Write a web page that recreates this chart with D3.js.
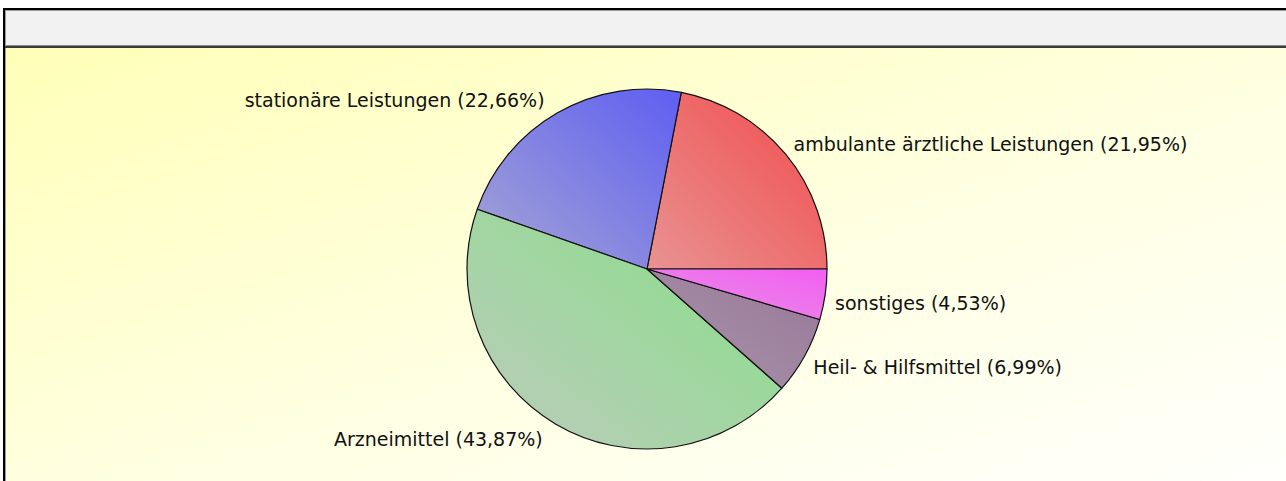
<!DOCTYPE html>
<html>
<head>
<meta charset="utf-8">
<script src="https://cdn.jsdelivr.net/npm/d3@7"></script>
<style>
  html, body { margin: 0; padding: 0; background: #fff; }
  svg { display: block; }
  .label { font-family: "DejaVu Sans", sans-serif; font-size: 19px; fill: #111; }
</style>
</head>
<body>
<div id="chart"></div>
<script>
// pie data
const categories = ['ambulante ärztliche Leistungen', 'stationäre Leistungen', 'Arzneimittel', 'Heil- & Hilfsmittel', 'sonstiges'];
const shares = [21.95, 22.66, 43.87, 6.99, 4.53];
const baseColors = ['#f24b4b', '#5e5ef2', '#86e086', '#987898', '#f25ef2'];
const lightColors = ['#e99292', '#a6a6d4', '#bdcbbd', '#a994a9', '#e893e4'];

(function() {
  const W = 1286, H = 481;
  const box = {left: 3, top: 8};
  const headerH = 37;
  const cx = 647, cy = 269, radius = 180;

  const de = d3.formatLocale({decimal: ',', thousands: '.', grouping: [3], currency: ['', ' €']});
  const pct = de.format('.2f');

  const svg = d3.select('#chart').append('svg')
    .attr('width', W)
    .attr('height', H);

  const defs = svg.append('defs');

  // background gradient of the plot area
  const bg = defs.append('linearGradient')
    .attr('id', 'bg')
    .attr('x1', 0).attr('y1', 0).attr('x2', 1).attr('y2', 1);
  bg.append('stop').attr('offset', '0%').attr('stop-color', '#ffffb8');
  bg.append('stop').attr('offset', '55%').attr('stop-color', '#ffffe2');
  bg.append('stop').attr('offset', '100%').attr('stop-color', '#fffffc');

  // one gradient per slice, light at lower left, saturated at upper right
  categories.forEach((c, i) => {
    const g = defs.append('linearGradient')
      .attr('id', 'slice' + i)
      .attr('x1', 0).attr('y1', 1).attr('x2', 1).attr('y2', 0);
    g.append('stop').attr('offset', '0%').attr('stop-color', lightColors[i]);
    g.append('stop').attr('offset', '100%').attr('stop-color', baseColors[i]);
  });

  // frame: black outer line, grey header band, plot area
  svg.append('rect')
    .attr('x', box.left).attr('y', box.top)
    .attr('width', W).attr('height', H)
    .attr('fill', '#000');
  svg.append('rect')
    .attr('x', box.left + 2).attr('y', box.top + 2)
    .attr('width', W).attr('height', H)
    .attr('fill', '#9a9a9a');
  svg.append('rect')
    .attr('x', box.left + 3).attr('y', box.top + 3)
    .attr('width', W).attr('height', headerH - 3)
    .attr('fill', '#f2f2f2');
  svg.append('rect')
    .attr('x', box.left + 3).attr('y', box.top + headerH)
    .attr('width', W).attr('height', 1)
    .attr('fill', '#8a8a8a');
  svg.append('rect')
    .attr('x', box.left + 2).attr('y', box.top + headerH + 1)
    .attr('width', W).attr('height', 2)
    .attr('fill', '#3a3a3a');
  const plotTop = box.top + headerH + 3;
  svg.append('rect')
    .attr('x', box.left + 3).attr('y', plotTop)
    .attr('width', W - box.left - 3).attr('height', H - plotTop)
    .attr('fill', 'url(#bg)');

  const data = categories.map((c, i) => ({name: c, value: shares[i], i: i}));

  // counterclockwise from 3 o'clock
  const pie = d3.pie()
    .sort(null)
    .value(d => d.value)
    .startAngle(Math.PI / 2)
    .endAngle(Math.PI / 2 - 2 * Math.PI);

  const arc = d3.arc().innerRadius(0).outerRadius(radius);
  const arcs = pie(data);

  const g = svg.append('g')
    .attr('transform', `translate(${cx},${cy})`);

  g.selectAll('path.slice')
    .data(arcs)
    .enter().append('path')
    .attr('class', 'slice')
    .attr('d', arc)
    .attr('fill', d => `url(#slice${d.data.i})`)
    .attr('stroke', '#111')
    .attr('stroke-width', 1.2)
    .attr('stroke-linejoin', 'round');

  // labels outside the pie along each slice's mid angle
  const labelR = radius + 10;
  g.selectAll('text.label')
    .data(arcs)
    .enter().append('text')
    .attr('class', 'label')
    .each(function(d) {
      const mid = (d.startAngle + d.endAngle) / 2;
      const sx = Math.sin(mid), cy0 = -Math.cos(mid);
      const left = sx < 0;
      const x = labelR * sx + (left ? -8 : 0);
      const y = labelR * cy0 + (cy0 > 0 ? 7 : -4);
      d3.select(this)
        .attr('x', x)
        .attr('y', y)
        .attr('dy', '0.35em')
        .attr('text-anchor', left ? 'end' : 'start')
        .text(`${d.data.name} (${pct(d.data.value)}%)`);
    });
}());
</script>
</body>
</html>
